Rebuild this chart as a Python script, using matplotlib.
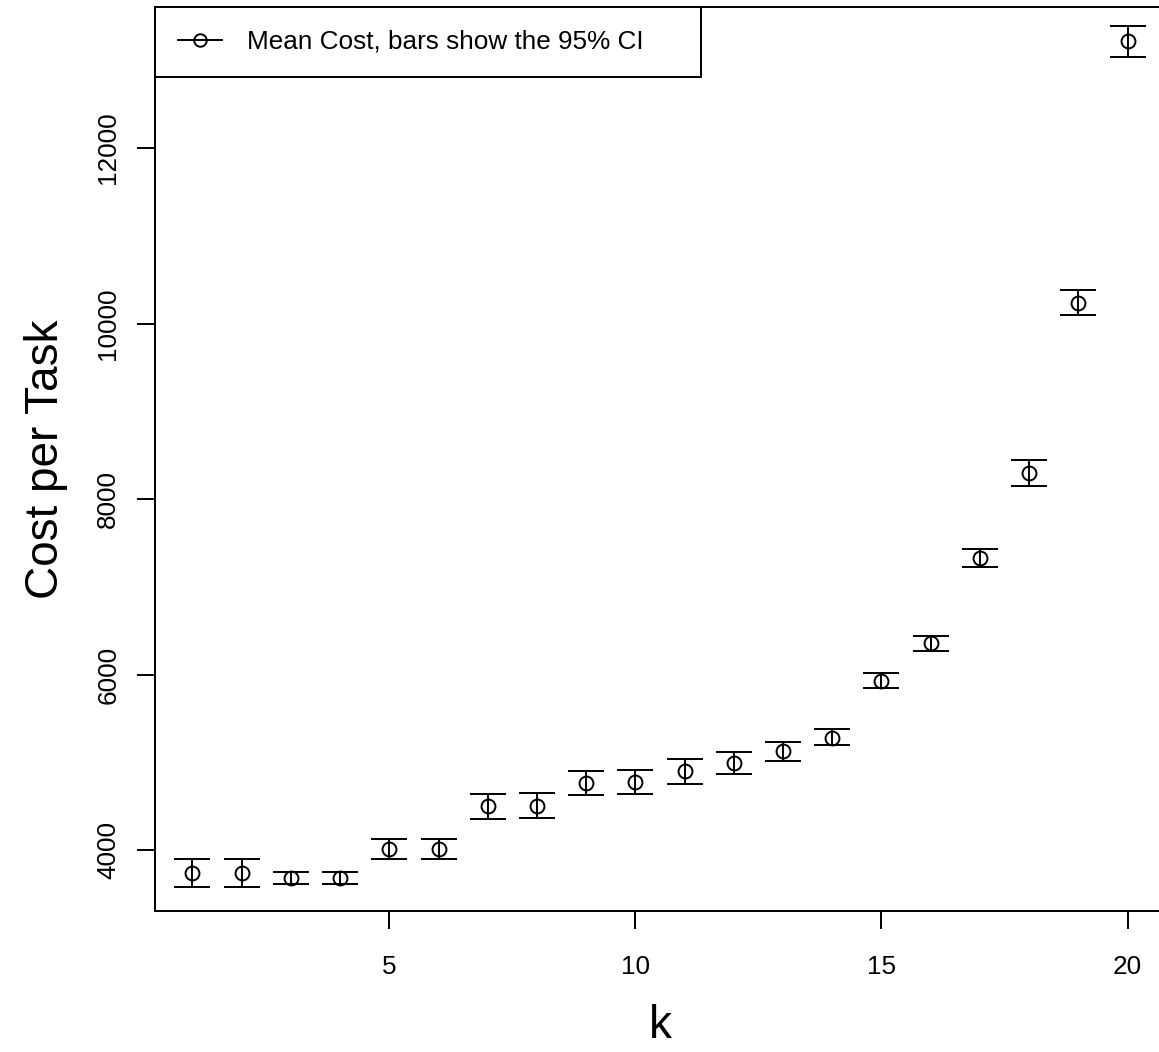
import numpy as np
import matplotlib
matplotlib.use("Agg")
import matplotlib.pyplot as plt
from matplotlib.lines import Line2D

plt.rcParams['font.family'] = ['Liberation Sans', 'DejaVu Sans']

# values
k = list(range(1, 21))
mean_cost = [3734, 3734, 3677, 3677, 4011, 4011, 4497, 4505, 4760, 4778,
             4904, 4988, 5125, 5280, 5929, 6355, 7331, 8300, 10237, 13219]
ci_low = [3578, 3578, 3613, 3613, 3897, 3897, 4357, 4365, 4623, 4641,
          4755, 4863, 5014, 5197, 5846, 6271, 7225, 8148, 10093, 13042]
ci_high = [3897, 3897, 3753, 3753, 4125, 4125, 4638, 4650, 4904, 4915,
           5040, 5117, 5231, 5375, 6017, 6439, 7434, 8444, 10382, 13393]

x_ticks = [5, 10, 15, 20]
y_ticks = [4000, 6000, 8000, 10000, 12000]

mean_cost = np.array(mean_cost)
err = [mean_cost - np.array(ci_low), np.array(ci_high) - mean_cost]

fig = plt.figure(figsize=(11.59, 10.52), dpi=100)
ax = fig.add_axes([155 / 1159, 141 / 1052, 1010 / 1159, 904 / 1052])

lw = 1.4
ax.errorbar(k, mean_cost, yerr=err, fmt='o', mfc='none', mec='black', ms=10,
            mew=lw, ecolor='black', elinewidth=lw, capsize=13, capthick=lw)

ax.set_xlim(0.24, 20.76)
ax.set_ylim(3305, 13607)
ax.set_xticks(x_ticks)
ax.set_yticks(y_ticks)
ax.set_yticklabels([str(v) for v in y_ticks], rotation=90, va='center')

for s in ax.spines.values():
    s.set_linewidth(lw)
ax.tick_params(axis='both', length=13, width=lw, labelsize=18.8, color='black')
ax.tick_params(axis='x', pad=19)
ax.tick_params(axis='y', pad=12)

ax.set_xlabel("k", fontsize=33, labelpad=18)
ax.set_ylabel("Cost per Task", fontsize=33, labelpad=20)

# legend: line with open circle, as in R's legend(lty=1, pch=1)
handle = Line2D([], [], color='black', lw=lw, marker='o', mfc='none', mec='black',
                ms=9, mew=lw)
leg = ax.legend([handle], ["Mean Cost, bars show the 95% CI"], loc='upper left',
                bbox_to_anchor=(0, 1 - 70 / 904, 546 / 1010, 70 / 904), mode='expand',
                borderaxespad=0, fancybox=False, edgecolor='black', framealpha=1,
                fontsize=18.8, handlelength=1.7, handletextpad=0.95, borderpad=0.88)
leg.get_frame().set_linewidth(lw)

fig.savefig("out.png", dpi=100)
